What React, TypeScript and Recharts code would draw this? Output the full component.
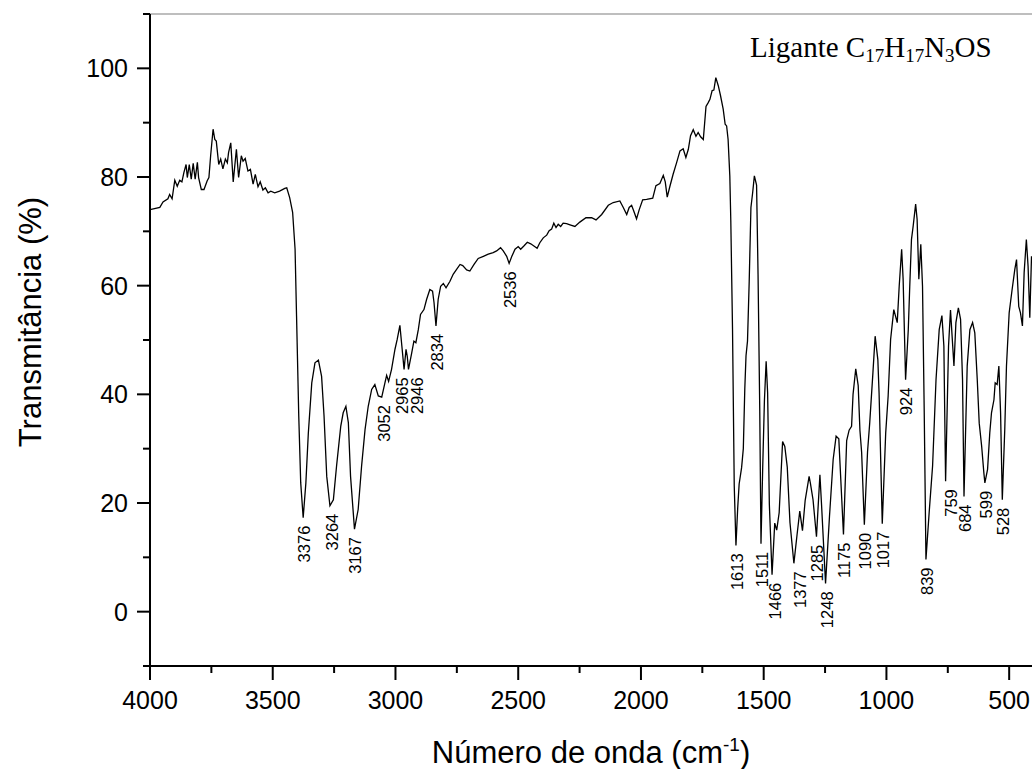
import React from 'react';
import { ComposedChart, Line, Scatter, XAxis, YAxis, ReferenceLine } from 'recharts';

// ---------- data ----------
const wavenumbers = [
  4000, 3960, 3947, 3927, 3920, 3910, 3899, 3889, 3879, 3870, 3862, 3853, 3848, 3840, 3832, 3824, 3816, 3807, 3802, 3791,
  3780, 3767, 3760, 3753, 3743, 3736, 3730, 3720, 3712, 3703, 3693, 3685, 3680, 3671, 3661, 3648, 3639, 3628, 3621, 3612,
  3601, 3591, 3580, 3571, 3560, 3551, 3540, 3530, 3519, 3508, 3492, 3472, 3451, 3443, 3431, 3419, 3409, 3403, 3394, 3386,
  3376, 3365, 3355, 3341, 3328, 3314, 3301, 3291, 3280, 3267, 3253, 3240, 3223, 3213, 3202, 3192, 3183, 3167, 3152, 3138,
  3124, 3111, 3097, 3084, 3070, 3056, 3043, 3036, 3028, 3016, 3002, 2993, 2982, 2974, 2965, 2957, 2952, 2947, 2934, 2925,
  2917, 2907, 2898, 2884, 2873, 2860, 2849, 2843, 2835, 2826, 2816, 2805, 2794, 2778, 2765, 2751, 2737, 2726, 2710, 2697,
  2680, 2663, 2642, 2622, 2602, 2588, 2572, 2561, 2547, 2537, 2526, 2513, 2500, 2490, 2477, 2463, 2449, 2436, 2423, 2412,
  2398, 2384, 2374, 2364, 2355, 2346, 2337, 2327, 2317, 2303, 2289, 2269, 2249, 2224, 2201, 2183, 2160, 2133, 2113, 2086,
  2072, 2058, 2048, 2038, 2029, 2018, 2007, 1993, 1977, 1952, 1939, 1923, 1909, 1901, 1893, 1882, 1869, 1855, 1841, 1828,
  1817, 1807, 1798, 1787, 1776, 1767, 1757, 1746, 1735, 1726, 1719, 1710, 1703, 1695, 1685, 1676, 1665, 1657, 1651, 1645,
  1638, 1634, 1627, 1620, 1613, 1606, 1600, 1590, 1583, 1577, 1572, 1566, 1559, 1552, 1545, 1538, 1529, 1523, 1516, 1511,
  1504, 1497, 1490, 1484, 1477, 1466, 1455, 1447, 1437, 1423, 1414, 1404, 1393, 1377, 1364, 1353, 1342, 1331, 1315, 1310,
  1299, 1285, 1271, 1264, 1248, 1232, 1217, 1205, 1194, 1175, 1162, 1152, 1142, 1136, 1125, 1115, 1108, 1101, 1090, 1077,
  1068, 1055, 1046, 1035, 1030, 1017, 1003, 993, 983, 970, 956, 948, 938, 932, 922, 911, 905, 898, 891, 881,
  875, 868, 860, 853, 846, 839, 826, 812, 798, 785, 774, 766, 759, 747, 739, 725, 717, 707, 698, 690,
  684, 671, 660, 649, 640, 630, 622, 612, 603, 599, 588, 579, 572, 562, 557, 549, 542, 535, 528, 518,
  511, 500, 488, 477, 470, 461, 454, 446, 439, 430, 423, 416, 409,
];

const transmittance = [
  74.0, 74.4, 75.4, 76.0, 76.8, 76.0, 79.4, 78.3, 79.4, 79.1, 80.8, 82.3, 79.9, 82.3, 79.6, 82.5, 79.6, 82.7, 79.9, 77.7,
  77.7, 79.3, 79.9, 83.9, 88.8, 86.9, 86.6, 82.3, 83.3, 81.5, 83.3, 82.6, 84.5, 86.3, 79.1, 85.1, 79.9, 83.9, 82.9, 83.4,
  81.1, 81.4, 78.7, 80.5, 78.2, 79.1, 77.6, 78.0, 77.1, 77.4, 77.1, 77.4, 77.9, 78.0, 76.2, 73.5, 66.7, 54.4, 36.0, 23.7,
  17.3, 23.7, 32.9, 42.1, 45.8, 46.3, 43.3, 36.0, 24.9, 19.5, 20.6, 26.8, 34.1, 36.6, 37.8, 34.8, 24.9, 15.2, 18.8, 26.8,
  33.5, 37.8, 40.9, 41.8, 39.7, 39.5, 42.1, 43.5, 42.4, 44.6, 48.3, 50.1, 52.7, 48.9, 44.6, 48.3, 47.0, 44.6, 47.6, 49.8,
  49.5, 51.9, 54.7, 55.6, 57.5, 59.3, 59.0, 56.9, 52.6, 57.5, 59.9, 60.4, 59.6, 60.8, 62.1, 63.0, 63.9, 63.7, 62.9, 62.7,
  63.9, 65.0, 65.4, 65.8, 66.1, 66.4, 67.0, 66.4, 65.4, 64.1, 65.4, 66.7, 67.2, 66.7, 67.3, 68.0, 67.7, 67.3, 66.9, 67.9,
  68.8, 69.3, 70.1, 70.4, 71.5, 70.7, 71.3, 70.9, 71.5, 71.4, 71.2, 70.9, 71.7, 72.5, 72.5, 72.1, 73.1, 74.8, 75.3, 75.6,
  74.4, 73.1, 74.4, 74.8, 73.7, 72.3, 74.0, 75.8, 75.9, 76.1, 78.4, 78.8, 80.3, 79.1, 76.3, 78.3, 80.5, 82.6, 84.8, 85.2,
  83.6, 85.1, 87.6, 88.7, 87.5, 88.2, 87.4, 86.9, 93.0, 93.7, 94.3, 95.9, 96.0, 98.3, 96.8, 95.0, 92.5, 89.7, 89.4, 86.9,
  80.2, 72.0, 52.0, 23.2, 12.2, 19.0, 23.5, 26.5, 30.0, 41.0, 47.1, 49.8, 60.8, 74.4, 77.1, 80.2, 78.5, 62.1, 36.9, 12.5,
  26.6, 38.9, 46.1, 40.3, 19.8, 6.8, 16.3, 15.0, 18.2, 31.3, 30.4, 26.6, 16.4, 8.9, 14.2, 18.5, 14.9, 20.5, 24.9, 23.7,
  20.6, 13.8, 25.2, 19.4, 5.2, 17.5, 28.0, 32.3, 31.8, 14.2, 31.5, 33.4, 34.1, 40.0, 44.7, 41.6, 33.4, 29.3, 16.0, 29.4,
  34.8, 44.0, 50.7, 46.4, 40.3, 16.2, 32.9, 39.7, 50.1, 55.6, 53.2, 59.9, 66.7, 61.2, 42.7, 51.9, 59.9, 68.5, 71.0, 75.0,
  72.2, 61.2, 67.6, 59.9, 36.6, 9.6, 18.2, 26.8, 42.7, 51.9, 54.5, 48.9, 24.0, 48.9, 55.5, 45.2, 53.2, 55.9, 53.8, 42.7,
  21.2, 45.2, 51.9, 53.2, 51.3, 42.7, 34.7, 30.4, 25.5, 23.7, 26.2, 32.9, 36.6, 39.0, 42.1, 41.8, 45.2, 36.6, 20.6, 33.5,
  45.2, 55.0, 59.3, 63.0, 64.8, 56.2, 55.0, 52.6, 62.4, 68.5, 63.6, 54.1, 65.4,
];

const peakLabels = [3376, 3264, 3167, 3052, 2965, 2946, 2834, 2536, 1613, 1511, 1466, 1377, 1285, 1248, 1175, 1090, 1017, 924, 839, 759, 684, 599, 528];
const peakValues = [17.3, 19.5, 15.2, 39.5, 44.6, 44.6, 52.6, 64.1, 12.2, 12.5, 6.8, 8.9, 13.8, 5.2, 14.2, 16.0, 16.2, 42.7, 9.6, 24.0, 21.2, 23.7, 20.6];

const majorXTicks = [4000, 3500, 3000, 2500, 2000, 1500, 1000, 500];
const minorXTicks = [3750, 3250, 2750, 2250, 1750, 1250, 750];
const majorYTicks = [0, 20, 40, 60, 80, 100];
const minorYTicks = [-10, 10, 30, 50, 70, 90, 110];

const xTitle = 'Número de onda (cm';
const yTitle = 'Transmitância (%)';

// ---------- layout / style (kept apart from the data) ----------
const W = 1032;
const H = 769;
const X_RIGHT = 407;
const FONT = '"Liberation Sans", Arial, Helvetica, sans-serif';
const SERIF = '"Liberation Serif", "Times New Roman", Times, serif';
const labelNudge: Record<number, number> = { 2965: -3, 2946: 7, 1377: 5, 759: 4, 1466: 2 };

const spectrum = wavenumbers.map((w, i) => ({ wn: w, t: transmittance[i] }));
const peaks = peakLabels.map((p, i) => ({ wn: p, t: peakValues[i], label: p }));
const xTicks = [...majorXTicks, ...minorXTicks].sort((a, b) => b - a);
const yTicks = [...majorYTicks, ...minorYTicks].sort((a, b) => a - b);

const XTick = (props: any) => {
  const { x, y, payload } = props;
  const major = majorXTicks.includes(payload.value);
  return (
    <g>
      <line x1={x} x2={x} y1={y} y2={y + (major ? 14 : 7)} stroke="#000" strokeWidth={2} />
      {major && (
        <text x={x} y={y + 43} textAnchor="middle" fontSize={25} fontFamily={FONT} fill="#000">
          {payload.value}
        </text>
      )}
    </g>
  );
};

const YTick = (props: any) => {
  const { x, y, payload } = props;
  const major = majorYTicks.includes(payload.value);
  return (
    <g>
      <line x1={x} x2={x - (major ? 13 : 7)} y1={y} y2={y} stroke="#000" strokeWidth={2} />
      {major && (
        <text x={x - 22} y={y} textAnchor="end" dominantBaseline="central" fontSize={25} fontFamily={FONT} fill="#000">
          {payload.value}
        </text>
      )}
    </g>
  );
};

const PeakLabel = (props: any) => {
  const { cx, cy, payload } = props;
  if (cx == null || cy == null) return <g />;
  const nudge = labelNudge[payload.label] ?? 0;
  const x = cx + 1 + nudge;
  const y = cy + 8;
  return (
    <text
      transform={`translate(${x},${y}) rotate(-90)`}
      textAnchor="end"
      dominantBaseline="central"
      fontSize={16.5}
      fontFamily={FONT}
      fill="#000"
    >
      {payload.label}
    </text>
  );
};

export default function App() {
  return (
    <div style={{ position: 'absolute', left: 0, top: 0, width: W, height: H, background: '#fff', overflow: 'hidden' }}>
      <ComposedChart width={W} height={H} data={spectrum} margin={{ top: 14, right: 0, bottom: 0, left: 0 }}>
        <XAxis
          type="number"
          dataKey="wn"
          domain={[X_RIGHT, 4000]}
          reversed
          allowDataOverflow
          ticks={xTicks}
          interval={0}
          tickSize={0}
          tickMargin={0}
          tickLine={false}
          axisLine={{ stroke: '#000', strokeWidth: 2 }}
          height={103}
          tick={(p: any) => <XTick {...p} />}
        />
        <YAxis
          type="number"
          domain={[-10, 110]}
          allowDataOverflow
          ticks={yTicks}
          interval={0}
          tickSize={0}
          tickMargin={0}
          tickLine={false}
          axisLine={{ stroke: '#000', strokeWidth: 2 }}
          width={150}
          tick={(p: any) => <YTick {...p} />}
        />
        <ReferenceLine y={110} stroke="#7f7f7f" strokeWidth={1.2} ifOverflow="extendDomain" />
        <Line
          type="linear"
          dataKey="t"
          stroke="#000"
          strokeWidth={1.3}
          dot={false}
          activeDot={false}
          isAnimationActive={false}
        />
        <Scatter data={peaks} dataKey="t" shape={(p: any) => <PeakLabel {...p} />} isAnimationActive={false} />
      </ComposedChart>
      <svg
        width={W}
        height={H}
        style={{ position: 'absolute', left: 0, top: 0, pointerEvents: 'none' }}
      >
        <text x={750} y={57} fontSize={29} fontFamily={SERIF} fill="#000">
          Ligante C<tspan fontSize={19} dy={5}>17</tspan>
          <tspan dy={-5}>H</tspan>
          <tspan fontSize={19} dy={5}>17</tspan>
          <tspan dy={-5}>N</tspan>
          <tspan fontSize={19} dy={5}>3</tspan>
          <tspan dy={-5}>OS</tspan>
        </text>
        <text x={591} y={763} textAnchor="middle" fontSize={31} fontFamily={FONT} fill="#000">
          {xTitle}
          <tspan fontSize={19} dy={-12}>-1</tspan>
          <tspan dy={12}>)</tspan>
        </text>
        <text
          transform="translate(30,322) rotate(-90)"
          textAnchor="middle"
          dominantBaseline="central"
          fontSize={31}
          fontFamily={FONT}
          fill="#000"
        >
          {yTitle}
        </text>
      </svg>
    </div>
  );
}
